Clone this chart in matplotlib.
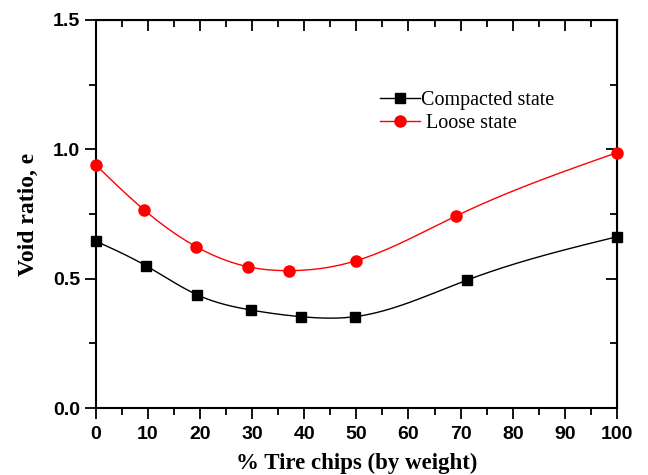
import numpy as np
import matplotlib.pyplot as plt

# values
x_comp = [0, 9.7, 19.5, 29.7, 39.4, 49.7, 71.3, 100]
e_comp = [0.645, 0.549, 0.437, 0.379, 0.353, 0.353, 0.495, 0.662]
x_loose = [0, 9.3, 19.3, 29.2, 37.0, 49.9, 69.1, 100]
e_loose = [0.939, 0.765, 0.623, 0.546, 0.531, 0.569, 0.742, 0.987]

serif = "Liberation Serif"
sans = "Liberation Sans"


def natural_spline(x, y, xs):
    # natural cubic spline through the points
    x = np.asarray(x, float)
    y = np.asarray(y, float)
    n = len(x)
    h = np.diff(x)
    A = np.zeros((n, n))
    b = np.zeros(n)
    A[0, 0] = A[-1, -1] = 1
    for i in range(1, n - 1):
        A[i, i - 1] = h[i - 1]
        A[i, i] = 2 * (h[i - 1] + h[i])
        A[i, i + 1] = h[i]
        b[i] = 6 * ((y[i + 1] - y[i]) / h[i] - (y[i] - y[i - 1]) / h[i - 1])
    M = np.linalg.solve(A, b)
    k = np.clip(np.searchsorted(x, xs) - 1, 0, n - 2)
    t0 = x[k + 1] - xs
    t1 = xs - x[k]
    hk = h[k]
    return (M[k] * t0**3 / (6 * hk) + M[k + 1] * t1**3 / (6 * hk)
            + (y[k] / hk - M[k] * hk / 6) * t0 + (y[k + 1] / hk - M[k + 1] * hk / 6) * t1)


fig = plt.figure(figsize=(6.48, 4.75), dpi=100)
ax = fig.add_axes([0.148, 0.141, 0.804, 0.817])

xs = np.linspace(0, 100, 400)
for x, y, col, mk, ms, lab in [(x_comp, e_comp, "black", "s", 7, "Compacted state"),
                               (x_loose, e_loose, "red", "o", 8, " Loose state")]:
    ax.plot(xs, natural_spline(x, y, xs), color=col, lw=1.0, zorder=2)
    ax.plot(x, y, ls="none", marker=mk, ms=ms, color=col, zorder=3, clip_on=False)
    # legend proxy
    ax.plot([], [], color=col, lw=1.0, marker=mk, ms=ms, label=lab)

ax.set_xlim(0, 100)
ax.set_ylim(0, 1.5)
ax.set_xticks(np.arange(0, 101, 10))
ax.set_xticks(np.arange(0, 101, 5), minor=True)
ax.set_yticks([0, 0.5, 1.0, 1.5])
ax.set_yticks(np.arange(0, 1.51, 0.25), minor=True)
ax.set_yticklabels(["0.0", "0.5", "1.0", "1.5"])

for s in ax.spines.values():
    s.set_linewidth(1.5)

ax.tick_params(which="both", direction="out", width=1.3, bottom=True, left=True)
ax.tick_params(which="major", length=8)
ax.tick_params(which="minor", length=5)
ax.tick_params(labelsize=14)
ax.tick_params(axis="x", pad=5)
for t in ax.get_xticklabels() + ax.get_yticklabels():
    t.set_fontfamily(sans)
    t.set_fontweight("bold")

# inward ticks on top and right
top = ax.secondary_xaxis("top")
top.set_xticks(np.arange(0, 101, 10))
top.set_xticks(np.arange(0, 101, 5), minor=True)
top.tick_params(which="both", direction="in", width=1.3, labeltop=False)
top.tick_params(which="major", length=8)
top.tick_params(which="minor", length=5)
right = ax.secondary_yaxis("right")
right.set_yticks([0, 0.5, 1.0, 1.5])
right.set_yticks(np.arange(0, 1.51, 0.25), minor=True)
right.tick_params(which="both", direction="in", width=1.3, labelright=False)
right.tick_params(which="major", length=8)
right.tick_params(which="minor", length=5)

ax.set_xlabel("% Tire chips (by weight)", fontfamily=serif, fontweight="bold",
              fontsize=16.5, labelpad=7)
ax.set_ylabel("Void ratio, e", fontfamily=serif, fontweight="bold",
              fontsize=17, labelpad=10)

ax.legend(loc="upper left", bbox_to_anchor=(0.51, 0.865), frameon=False,
          numpoints=1, handlelength=2.0, handletextpad=0.05, labelspacing=0.2,
          prop={"family": serif, "size": 14.5})

fig.savefig("out.png", dpi=100)
